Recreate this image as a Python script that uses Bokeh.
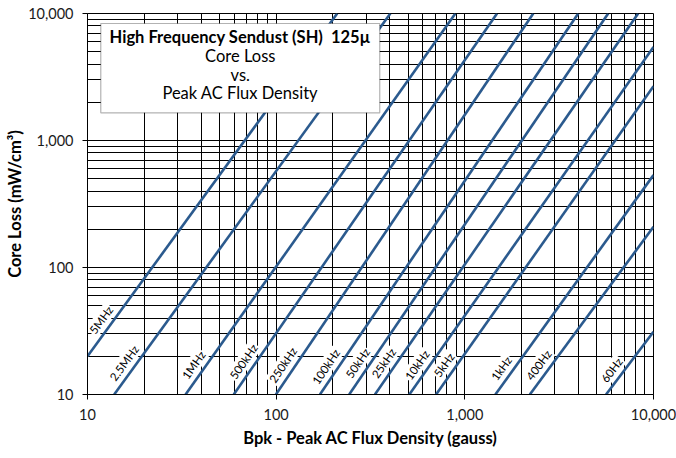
import math
from bokeh.plotting import figure
from bokeh.models import (ColumnDataSource, BoxAnnotation, Label, FixedTicker,
                          NumeralTickFormatter)
from bokeh.core.properties import value
from bokeh.embed import file_html
from bokeh.resources import INLINE

# ---- data ----
freq_labels = ["5MHz", "2.5MHz", "1MHz", "500kHz", "250kHz", "100kHz", "50kHz",
               "25kHz", "10kHz", "5kHz", "1kHz", "400Hz", "60Hz"]
# start point of each loss line (Bpk gauss, core loss mW/cm3)
b_start = [10, 13.85, 33.1, 59.6, 99.7, 170.6, 243.8, 333.9, 508, 704, 1452, 2211, 5604]
p_start = [20, 10, 10, 10, 10, 10, 10, 10, 10, 10, 10, 10, 10]
# end point of each loss line
b_end = [210.6, 403, 891, 1481, 2305, 3990, 5750, 8289, 10000, 10000, 10000, 10000, 10000]
p_end = [10000, 10000, 10000, 10000, 10000, 10000, 10000, 10000, 5460, 2679, 534, 209, 31.2]
# core-loss level at which each line's label sits
label_p = [38.7, 17.7, 17.1, 18.2, 17.1, 16.6, 17.7, 17.7, 17.1, 17.1, 16.1, 17.1, 15.6]

x_major = [10, 100, 1000, 10000]
y_major = [10, 100, 1000, 10000]

title_lines = ["High Frequency Sendust (SH)\u00a0 125\u00b5", "Core Loss", "vs.",
               "Peak AC Flux Density"]

FONT = "Lato"
LINE_COLOR = "#2B5A8E"

FW, FH = 566, 381

p = figure(x_axis_type="log", y_axis_type="log",
           x_range=(10, 10000), y_range=(10, 10000),
           frame_width=FW, frame_height=FH,
           min_border_left=87, min_border_right=23, min_border_top=13, min_border_bottom=64,
           output_backend="svg", toolbar_location=None)
p.background_fill_color = "white"
p.border_fill_color = "white"
p.outline_line_color = "black"
p.outline_line_width = 1

def minors(majors):
    out = []
    for m in majors[:-1]:
        out += [m * k for k in range(2, 10)]
    return out

p.xaxis.ticker = FixedTicker(ticks=x_major, minor_ticks=minors(x_major))
p.yaxis.ticker = FixedTicker(ticks=y_major, minor_ticks=minors(y_major))
for ax in (p.xaxis, p.yaxis):
    ax.formatter = NumeralTickFormatter(format="0,0")
    ax.axis_line_color = "black"
    ax.major_tick_line_color = "black"
    ax.major_tick_out = 5
    ax.major_tick_in = 0
    ax.minor_tick_out = 0
    ax.minor_tick_in = 0
    ax.major_label_text_font = FONT
    ax.major_label_text_font_size = "14.5px"
    ax.major_label_text_color = "#1a1a1a"
    ax.major_label_standoff = 9
    ax.axis_label_text_font = FONT
    ax.axis_label_text_font_style = "bold"
    ax.axis_label_text_font_size = "16.5px"
    ax.axis_label_text_color = "black"

p.xaxis.axis_label = "Bpk - Peak AC Flux Density (gauss)"
p.yaxis.axis_label = "Core Loss (mW/cm\u00b3)"
p.xaxis.axis_label_standoff = 5
p.yaxis.axis_label_standoff = 0

for g in (p.xgrid, p.ygrid):
    g.grid_line_color = "black"
    g.grid_line_alpha = 1.0
    g.grid_line_width = 1
    g.minor_grid_line_color = "black"
    g.minor_grid_line_alpha = 1.0
    g.minor_grid_line_width = 1

# loss lines
src = ColumnDataSource(dict(
    xs=[[b_start[i], b_end[i]] for i in range(len(freq_labels))],
    ys=[[p_start[i], p_end[i]] for i in range(len(freq_labels))],
))
p.multi_line(xs="xs", ys="ys", source=src, line_color=LINE_COLOR, line_width=2.6)

# labels placed along each line
ppd_x = FW / 3.0
ppd_y = FH / 3.0
lx, angles = [], []
for i in range(len(freq_labels)):
    lb0, lb1 = math.log10(b_start[i]), math.log10(b_end[i])
    lp0, lp1 = math.log10(p_start[i]), math.log10(p_end[i])
    slope = (lp1 - lp0) / (lb1 - lb0)
    lx.append(10 ** (lb0 + (math.log10(label_p[i]) - lp0) / slope))
    angles.append(math.atan(slope * ppd_y / ppd_x))
lsrc = ColumnDataSource(dict(x=lx, y=label_p, text=freq_labels, angle=angles))
p.text(x="x", y="y", text="text", angle="angle", source=lsrc,
       x_offset=-13, text_align="center", text_baseline="middle",
       text_font=value(FONT), text_font_size="11.5px", text_color="black",
       background_fill_color="white", padding=1)

# title box
box_l, box_r, box_t, box_b = 11.76, 354, 8340, 1652
p.add_layout(BoxAnnotation(left=box_l, right=box_r, top=box_t, bottom=box_b,
                           fill_color="white", fill_alpha=1.0,
                           line_color="black", line_width=1.2))
cx = math.sqrt(box_l * box_r)
title_y = [6548, 4616, 3270, 2348]
for i, t in enumerate(title_lines):
    p.add_layout(Label(x=cx, y=title_y[i], text=t, text_align="center",
                       text_baseline="middle", text_font=FONT,
                       text_font_size="16.5px",
                       text_font_style="bold" if i == 0 else "normal",
                       text_color="black"))

open("out.html", "w").write(file_html(p, INLINE))
